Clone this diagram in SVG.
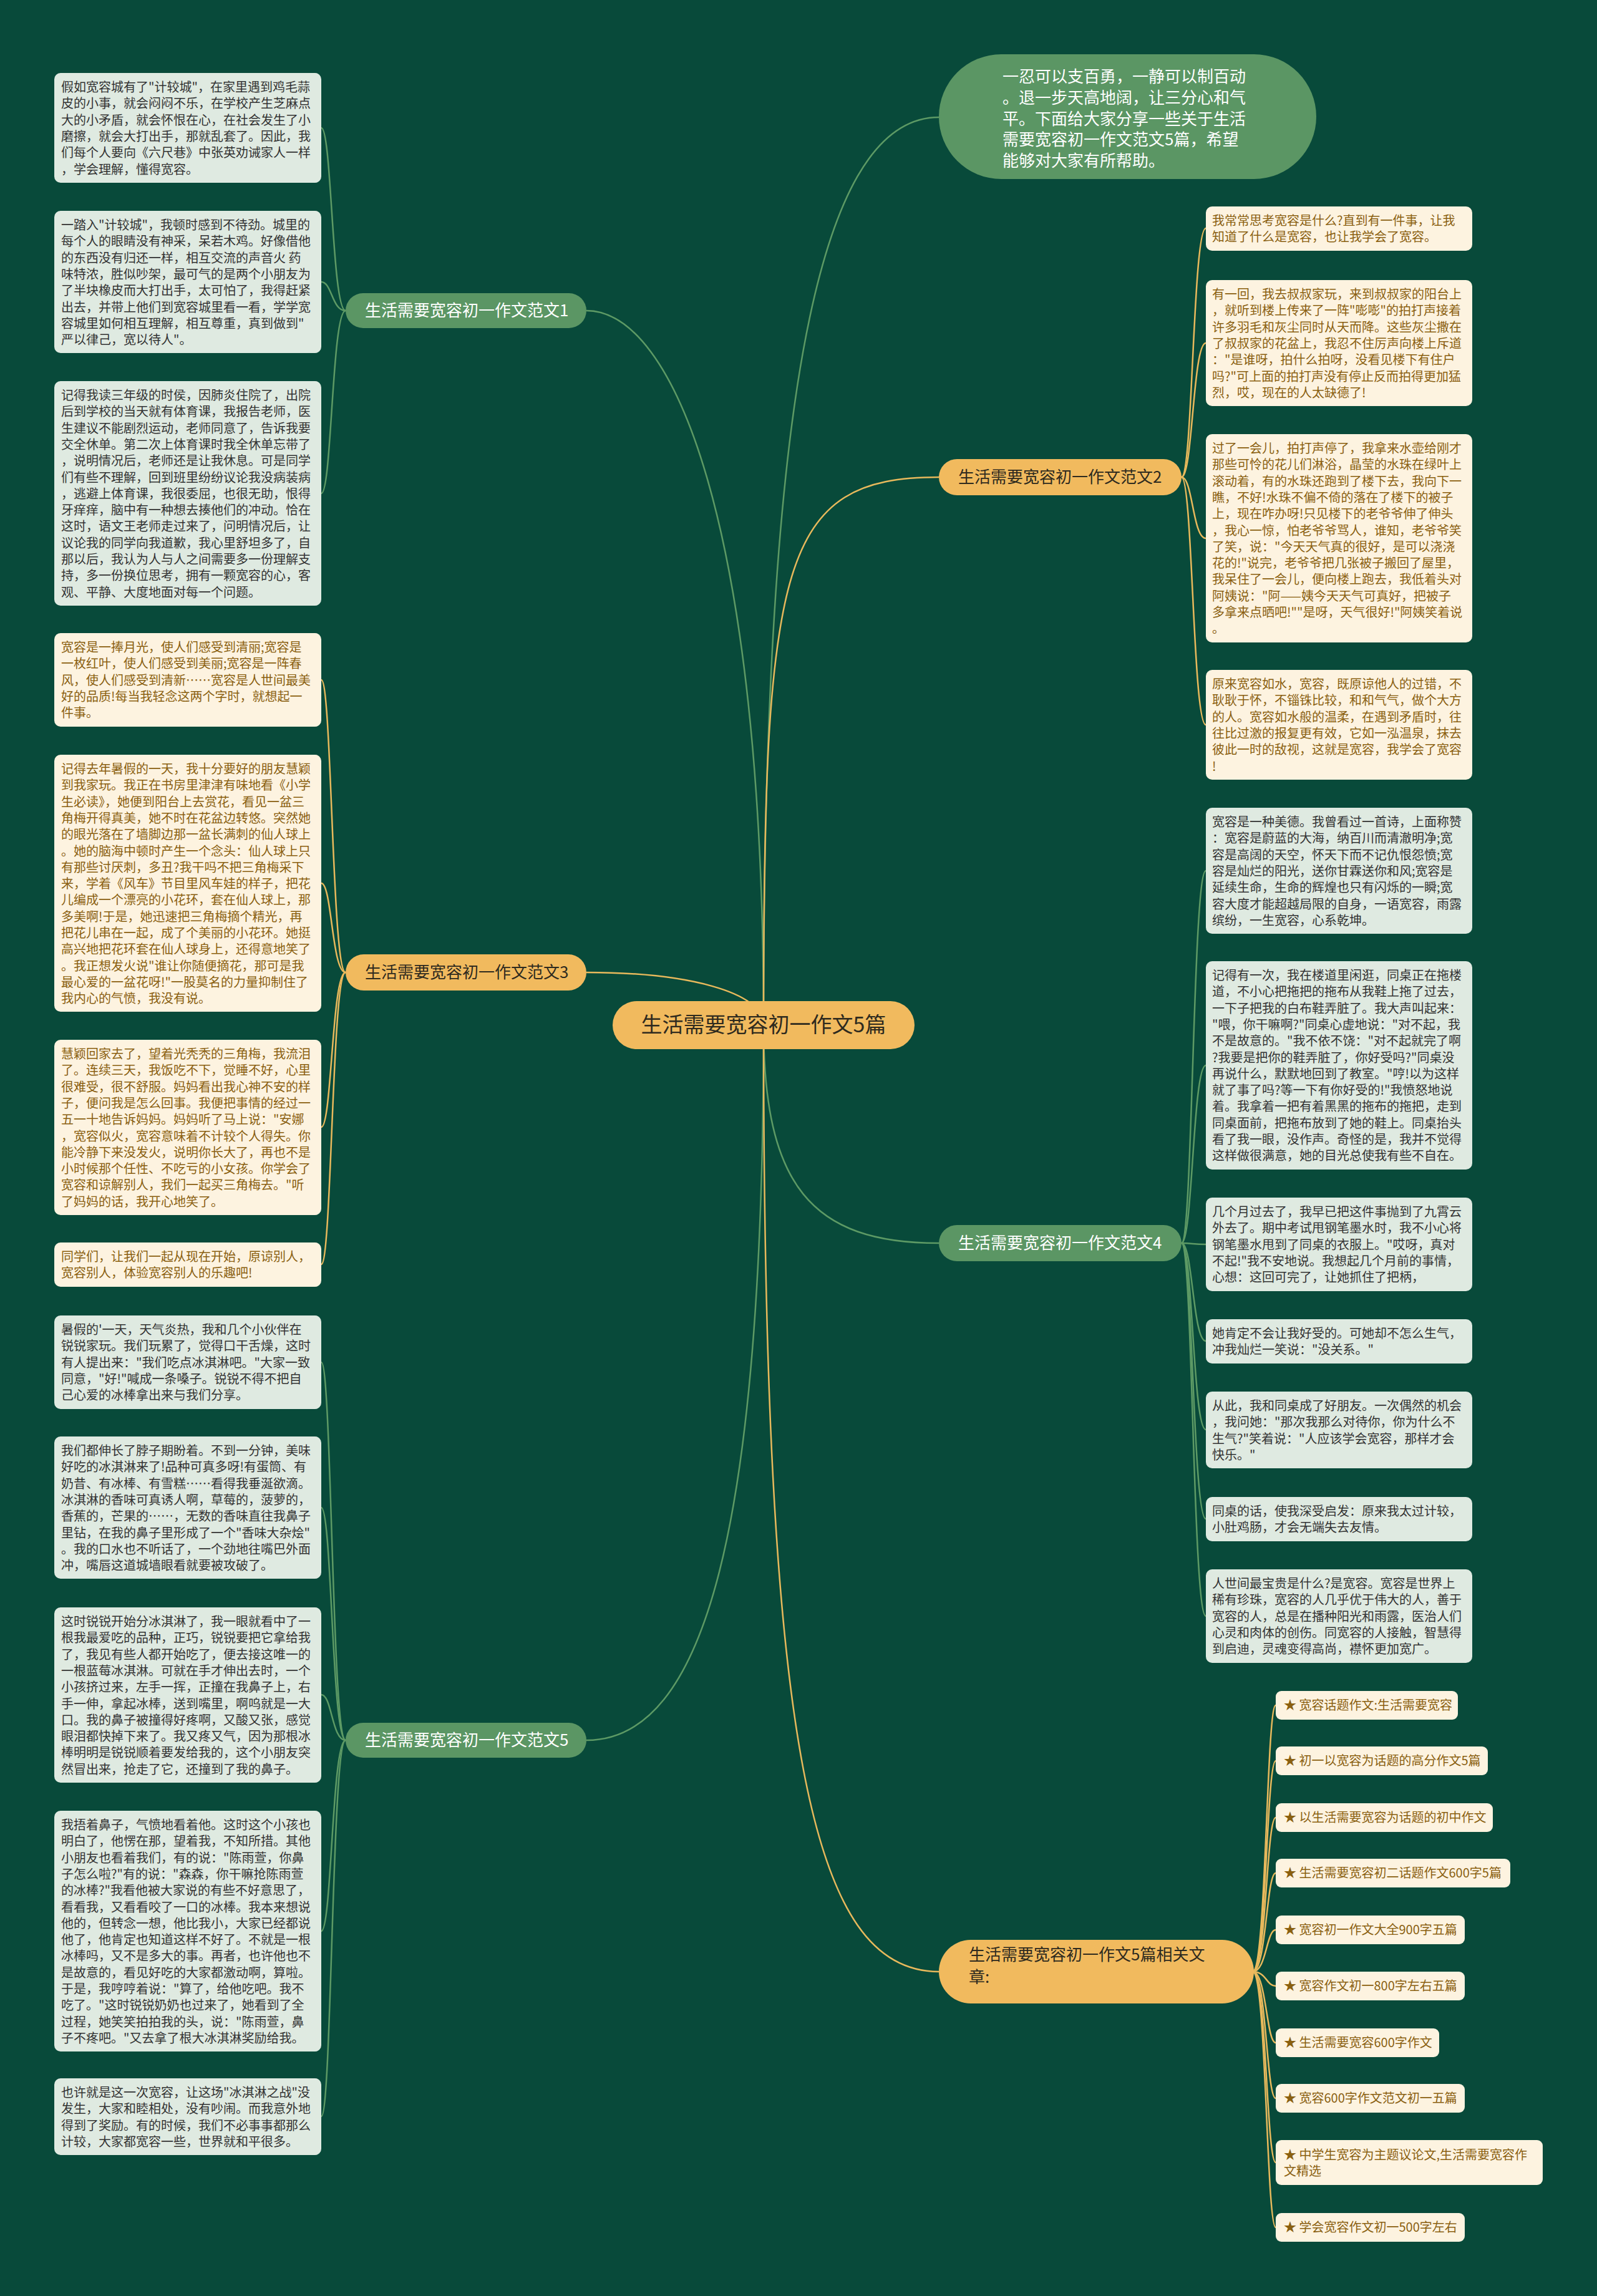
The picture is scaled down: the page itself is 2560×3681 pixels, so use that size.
<svg xmlns="http://www.w3.org/2000/svg" width="2560" height="3681" viewBox="0 0 2560 3681">
<style>
text{font-family:'Noto Sans CJK SC','Noto Sans',sans-serif}
.bx{font-size:20px}
.g{fill:#dfeae1}
.c{fill:#fdf3e0}
.tg{fill:#333333}
.tc{fill:#8a6010}
.lg{fill:none;stroke:#5d9a65;stroke-width:2.5}
.lo{fill:none;stroke:#e8b95c;stroke-width:2.5}
.pg{fill:#5b9664}
.po{fill:#f1ba5e}
.br{font-size:26px}
</style>
<rect width="2560" height="3681" fill="#084a3a"/>
<g id="connectors">
<path class="lg" d="M1224,1643 C1224,700 1300,188 1505,188"/>
<path class="lg" d="M1224,1643 C1224,842 1080,498 940,498"/>
<path class="lo" d="M1224,1643 C1224,900 1250,765 1505,765"/>
<path class="lo" d="M1224,1643 C1224,1590 1100,1559 940,1559"/>
<path class="lg" d="M1224,1643 C1224,1900 1300,1993 1505,1993"/>
<path class="lg" d="M1224,1643 C1224,2450 1130,2790 940,2790"/>
<path class="lo" d="M1224,1643 C1224,2800 1300,3161 1505,3161"/>
<path class="lg" d="M554,498 C532,498 532,205 515,205"/>
<path class="lg" d="M554,498 C532,498 532,452 515,452"/>
<path class="lg" d="M554,498 C532,498 532,791 515,791"/>
<path class="lo" d="M554,1559 C532,1559 532,1090 515,1090"/>
<path class="lo" d="M554,1559 C532,1559 532,1416 515,1416"/>
<path class="lo" d="M554,1559 C532,1559 532,1807 515,1807"/>
<path class="lo" d="M554,1559 C532,1559 532,2027 515,2027"/>
<path class="lg" d="M554,2790 C532,2790 532,2184 515,2184"/>
<path class="lg" d="M554,2790 C532,2790 532,2417 515,2417"/>
<path class="lg" d="M554,2790 C532,2790 532,2717 515,2717"/>
<path class="lg" d="M554,2790 C532,2790 532,3096 515,3096"/>
<path class="lg" d="M554,2790 C532,2790 532,3393 515,3393"/>
<path class="lo" d="M1894,765 C1912,765 1912,366 1933,366"/>
<path class="lo" d="M1894,765 C1912,765 1912,550 1933,550"/>
<path class="lo" d="M1894,765 C1912,765 1912,863 1933,863"/>
<path class="lo" d="M1894,765 C1912,765 1912,1162 1933,1162"/>
<path class="lg" d="M1894,1993 C1912,1993 1912,1396 1933,1396"/>
<path class="lg" d="M1894,1993 C1912,1993 1912,1708 1933,1708"/>
<path class="lg" d="M1894,1993 C1912,1993 1912,1995 1933,1995"/>
<path class="lg" d="M1894,1993 C1912,1993 1912,2150 1933,2150"/>
<path class="lg" d="M1894,1993 C1912,1993 1912,2292 1933,2292"/>
<path class="lg" d="M1894,1993 C1912,1993 1912,2435 1933,2435"/>
<path class="lg" d="M1894,1993 C1912,1993 1912,2591 1933,2591"/>
<path class="lo" d="M2008,3161 C2030,3161 2030,2734 2045,2734"/>
<path class="lo" d="M2008,3161 C2030,3161 2030,2823 2045,2823"/>
<path class="lo" d="M2008,3161 C2030,3161 2030,2914 2045,2914"/>
<path class="lo" d="M2008,3161 C2030,3161 2030,3003 2045,3003"/>
<path class="lo" d="M2008,3161 C2030,3161 2030,3094 2045,3094"/>
<path class="lo" d="M2008,3161 C2030,3161 2030,3184 2045,3184"/>
<path class="lo" d="M2008,3161 C2030,3161 2030,3275 2045,3275"/>
<path class="lo" d="M2008,3161 C2030,3161 2030,3364 2045,3364"/>
<path class="lo" d="M2008,3161 C2030,3161 2030,3467 2045,3467"/>
<path class="lo" d="M2008,3161 C2030,3161 2030,3571 2045,3571"/>
</g>
<g id="center"><rect class="po" x="982" y="1605" width="484" height="77" rx="38.5"/><text x="1224" y="1655" font-size="34" fill="#2e2a1e" text-anchor="middle">生活需要宽容初一作文5篇</text></g>
<g id="intro"><rect class="pg" x="1505" y="87" width="605" height="200" rx="100"/><text font-size="26" fill="#ffffff"><tspan x="1607" y="132">一忍可以支百勇，一静可以制百动</tspan><tspan x="1607" dy="33.8">。退一步天高地阔，让三分心和气</tspan><tspan x="1607" dy="33.8">平。下面给大家分享一些关于生活</tspan><tspan x="1607" dy="33.8">需要宽容初一作文范文5篇，希望</tspan><tspan x="1607" dy="33.8">能够对大家有所帮助。</tspan></text></g>
<g id="branch1"><rect class="pg" x="554" y="470" width="386" height="56" rx="28"/><text class="br" x="585" y="507" fill="#ffffff">生活需要宽容初一作文范文1</text></g>
<g id="branch2"><rect class="po" x="1505" y="736" width="389" height="58" rx="29"/><text class="br" x="1536" y="774" fill="#2e2a1e">生活需要宽容初一作文范文2</text></g>
<g id="branch3"><rect class="po" x="554" y="1530" width="386" height="58" rx="29"/><text class="br" x="585" y="1568" fill="#2e2a1e">生活需要宽容初一作文范文3</text></g>
<g id="branch4"><rect class="pg" x="1505" y="1964" width="389" height="58" rx="29"/><text class="br" x="1536" y="2002" fill="#ffffff">生活需要宽容初一作文范文4</text></g>
<g id="branch5"><rect class="pg" x="554" y="2762" width="386" height="56" rx="28"/><text class="br" x="585" y="2799" fill="#ffffff">生活需要宽容初一作文范文5</text></g>
<g id="branch6"><rect class="po" x="1505" y="3110" width="505" height="102" rx="51"/><text class="br" fill="#2e2a1e"><tspan x="1553" y="3143">生活需要宽容初一作文5篇相关文</tspan><tspan x="1553" dy="36">章:</tspan></text></g>
<g id="b1"><rect class="g" x="87" y="117" width="428" height="176" rx="10"/><text class="bx tg"><tspan x="98" y="147">假如宽容城有了"计较城"，在家里遇到鸡毛蒜</tspan><tspan x="98" dy="26.3">皮的小事，就会闷闷不乐，在学校产生芝麻点</tspan><tspan x="98" dy="26.3">大的小矛盾，就会怀恨在心，在社会发生了小</tspan><tspan x="98" dy="26.3">磨擦，就会大打出手，那就乱套了。因此，我</tspan><tspan x="98" dy="26.3">们每个人要向《六尺巷》中张英劝诫家人一样</tspan><tspan x="98" dy="26.3">，学会理解，懂得宽容。</tspan></text></g>
<g id="b2"><rect class="g" x="87" y="338" width="428" height="228" rx="10"/><text class="bx tg"><tspan x="98" y="368">一踏入"计较城"，我顿时感到不待劲。城里的</tspan><tspan x="98" dy="26.3">每个人的眼睛没有神采，呆若木鸡。好像借他</tspan><tspan x="98" dy="26.3">的东西没有归还一样，相互交流的声音火 药</tspan><tspan x="98" dy="26.3">味特浓，胜似吵架，最可气的是两个小朋友为</tspan><tspan x="98" dy="26.3">了半块橡皮而大打出手，太可怕了，我得赶紧</tspan><tspan x="98" dy="26.3">出去，并带上他们到宽容城里看一看，学学宽</tspan><tspan x="98" dy="26.3">容城里如何相互理解，相互尊重，真到做到"</tspan><tspan x="98" dy="26.3">严以律己，宽以待人"。</tspan></text></g>
<g id="b3"><rect class="g" x="87" y="611" width="428" height="360" rx="10"/><text class="bx tg"><tspan x="98" y="641">记得我读三年级的时侯，因肺炎住院了，出院</tspan><tspan x="98" dy="26.3">后到学校的当天就有体育课，我报告老师，医</tspan><tspan x="98" dy="26.3">生建议不能剧烈运动，老师同意了，告诉我要</tspan><tspan x="98" dy="26.3">交全休单。第二次上体育课时我全休单忘带了</tspan><tspan x="98" dy="26.3">，说明情况后，老师还是让我休息。可是同学</tspan><tspan x="98" dy="26.3">们有些不理解，回到班里纷纷议论我没病装病</tspan><tspan x="98" dy="26.3">，逃避上体育课，我很委屈，也很无助，恨得</tspan><tspan x="98" dy="26.3">牙痒痒，脑中有一种想去揍他们的冲动。恰在</tspan><tspan x="98" dy="26.3">这时，语文王老师走过来了，问明情况后，让</tspan><tspan x="98" dy="26.3">议论我的同学向我道歉，我心里舒坦多了，自</tspan><tspan x="98" dy="26.3">那以后，我认为人与人之间需要多一份理解支</tspan><tspan x="98" dy="26.3">持，多一份换位思考，拥有一颗宽容的心，客</tspan><tspan x="98" dy="26.3">观、平静、大度地面对每一个问题。</tspan></text></g>
<g id="b4"><rect class="c" x="87" y="1015" width="428" height="150" rx="10"/><text class="bx tc"><tspan x="98" y="1045">宽容是一捧月光，使人们感受到清丽;宽容是</tspan><tspan x="98" dy="26.3">一枚红叶，使人们感受到美丽;宽容是一阵春</tspan><tspan x="98" dy="26.3">风，使人们感受到清新……宽容是人世间最美</tspan><tspan x="98" dy="26.3">好的品质!每当我轻念这两个字时，就想起一</tspan><tspan x="98" dy="26.3">件事。</tspan></text></g>
<g id="b5"><rect class="c" x="87" y="1210" width="428" height="412" rx="10"/><text class="bx tc"><tspan x="98" y="1240">记得去年暑假的一天，我十分要好的朋友慧颖</tspan><tspan x="98" dy="26.3">到我家玩。我正在书房里津津有味地看《小学</tspan><tspan x="98" dy="26.3">生必读》，她便到阳台上去赏花，看见一盆三</tspan><tspan x="98" dy="26.3">角梅开得真美，她不时在花盆边转悠。突然她</tspan><tspan x="98" dy="26.3">的眼光落在了墙脚边那一盆长满刺的仙人球上</tspan><tspan x="98" dy="26.3">。她的脑海中顿时产生一个念头：仙人球上只</tspan><tspan x="98" dy="26.3">有那些讨厌刺，多丑?我干吗不把三角梅采下</tspan><tspan x="98" dy="26.3">来，学着《风车》节目里风车娃的样子，把花</tspan><tspan x="98" dy="26.3">儿编成一个漂亮的小花环，套在仙人球上，那</tspan><tspan x="98" dy="26.3">多美啊!于是，她迅速把三角梅摘个精光，再</tspan><tspan x="98" dy="26.3">把花儿串在一起，成了个美丽的小花环。她挺</tspan><tspan x="98" dy="26.3">高兴地把花环套在仙人球身上，还得意地笑了</tspan><tspan x="98" dy="26.3">。我正想发火说"谁让你随便摘花，那可是我</tspan><tspan x="98" dy="26.3">最心爱的一盆花呀!"一股莫名的力量抑制住了</tspan><tspan x="98" dy="26.3">我内心的气愤，我没有说。</tspan></text></g>
<g id="b6"><rect class="c" x="87" y="1667" width="428" height="281" rx="10"/><text class="bx tc"><tspan x="98" y="1697">慧颖回家去了，望着光秃秃的三角梅，我流泪</tspan><tspan x="98" dy="26.3">了。连续三天，我饭吃不下，觉睡不好，心里</tspan><tspan x="98" dy="26.3">很难受，很不舒服。妈妈看出我心神不安的样</tspan><tspan x="98" dy="26.3">子，便问我是怎么回事。我便把事情的经过一</tspan><tspan x="98" dy="26.3">五一十地告诉妈妈。妈妈听了马上说："安娜</tspan><tspan x="98" dy="26.3">，宽容似火，宽容意味着不计较个人得失。你</tspan><tspan x="98" dy="26.3">能冷静下来没发火，说明你长大了，再也不是</tspan><tspan x="98" dy="26.3">小时候那个任性、不吃亏的小女孩。你学会了</tspan><tspan x="98" dy="26.3">宽容和谅解别人，我们一起买三角梅去。"听</tspan><tspan x="98" dy="26.3">了妈妈的话，我开心地笑了。</tspan></text></g>
<g id="b7"><rect class="c" x="87" y="1992" width="428" height="71" rx="10"/><text class="bx tc"><tspan x="98" y="2022">同学们，让我们一起从现在开始，原谅别人，</tspan><tspan x="98" dy="26.3">宽容别人，体验宽容别人的乐趣吧!</tspan></text></g>
<g id="b8"><rect class="g" x="87" y="2109" width="428" height="150" rx="10"/><text class="bx tg"><tspan x="98" y="2139">暑假的'一天，天气炎热，我和几个小伙伴在</tspan><tspan x="98" dy="26.3">锐锐家玩。我们玩累了，觉得口干舌燥，这时</tspan><tspan x="98" dy="26.3">有人提出来："我们吃点冰淇淋吧。"大家一致</tspan><tspan x="98" dy="26.3">同意，"好!"喊成一条嗓子。锐锐不得不把自</tspan><tspan x="98" dy="26.3">己心爱的冰棒拿出来与我们分享。</tspan></text></g>
<g id="b9"><rect class="g" x="87" y="2303" width="428" height="228" rx="10"/><text class="bx tg"><tspan x="98" y="2333">我们都伸长了脖子期盼着。不到一分钟，美味</tspan><tspan x="98" dy="26.3">好吃的冰淇淋来了!品种可真多呀!有蛋筒、有</tspan><tspan x="98" dy="26.3">奶昔、有冰棒、有雪糕……看得我垂涎欲滴。</tspan><tspan x="98" dy="26.3">冰淇淋的香味可真诱人啊，草莓的，菠萝的，</tspan><tspan x="98" dy="26.3">香蕉的，芒果的……，无数的香味直往我鼻子</tspan><tspan x="98" dy="26.3">里钻，在我的鼻子里形成了一个"香味大杂烩"</tspan><tspan x="98" dy="26.3">。我的口水也不听话了，一个劲地往嘴巴外面</tspan><tspan x="98" dy="26.3">冲，嘴唇这道城墙眼看就要被攻破了。</tspan></text></g>
<g id="b10"><rect class="g" x="87" y="2577" width="428" height="281" rx="10"/><text class="bx tg"><tspan x="98" y="2607">这时锐锐开始分冰淇淋了，我一眼就看中了一</tspan><tspan x="98" dy="26.3">根我最爱吃的品种，正巧，锐锐要把它拿给我</tspan><tspan x="98" dy="26.3">了，我见有些人都开始吃了，便去接这唯一的</tspan><tspan x="98" dy="26.3">一根蓝莓冰淇淋。可就在手才伸出去时，一个</tspan><tspan x="98" dy="26.3">小孩挤过来，左手一挥，正撞在我鼻子上，右</tspan><tspan x="98" dy="26.3">手一伸，拿起冰棒，送到嘴里，啊呜就是一大</tspan><tspan x="98" dy="26.3">口。我的鼻子被撞得好疼啊，又酸又张，感觉</tspan><tspan x="98" dy="26.3">眼泪都快掉下来了。我又疼又气，因为那根冰</tspan><tspan x="98" dy="26.3">棒明明是锐锐顺着要发给我的，这个小朋友突</tspan><tspan x="98" dy="26.3">然冒出来，抢走了它，还撞到了我的鼻子。</tspan></text></g>
<g id="b11"><rect class="g" x="87" y="2903" width="428" height="386" rx="10"/><text class="bx tg"><tspan x="98" y="2933">我捂着鼻子，气愤地看着他。这时这个小孩也</tspan><tspan x="98" dy="26.3">明白了，他愣在那，望着我，不知所措。其他</tspan><tspan x="98" dy="26.3">小朋友也看着我们，有的说："陈雨萱，你鼻</tspan><tspan x="98" dy="26.3">子怎么啦?"有的说："森森，你干嘛抢陈雨萱</tspan><tspan x="98" dy="26.3">的冰棒?"我看他被大家说的有些不好意思了，</tspan><tspan x="98" dy="26.3">看看我，又看看咬了一口的冰棒。我本来想说</tspan><tspan x="98" dy="26.3">他的，但转念一想，他比我小，大家已经都说</tspan><tspan x="98" dy="26.3">他了，他肯定也知道这样不好了。不就是一根</tspan><tspan x="98" dy="26.3">冰棒吗，又不是多大的事。再者，也许他也不</tspan><tspan x="98" dy="26.3">是故意的，看见好吃的大家都激动啊，算啦。</tspan><tspan x="98" dy="26.3">于是，我哼哼着说："算了，给他吃吧。我不</tspan><tspan x="98" dy="26.3">吃了。"这时锐锐奶奶也过来了，她看到了全</tspan><tspan x="98" dy="26.3">过程，她笑笑拍拍我的头，说："陈雨萱，鼻</tspan><tspan x="98" dy="26.3">子不疼吧。"又去拿了根大冰淇淋奖励给我。</tspan></text></g>
<g id="b12"><rect class="g" x="87" y="3332" width="428" height="123" rx="10"/><text class="bx tg"><tspan x="98" y="3362">也许就是这一次宽容，让这场"冰淇淋之战"没</tspan><tspan x="98" dy="26.3">发生，大家和睦相处，没有吵闹。而我意外地</tspan><tspan x="98" dy="26.3">得到了奖励。有的时候，我们不必事事都那么</tspan><tspan x="98" dy="26.3">计较，大家都宽容一些，世界就和平很多。</tspan></text></g>
<g id="r1"><rect class="c" x="1933" y="331" width="427" height="71" rx="10"/><text class="bx tc"><tspan x="1943" y="361">我常常思考宽容是什么?直到有一件事，让我</tspan><tspan x="1943" dy="26.3">知道了什么是宽容，也让我学会了宽容。</tspan></text></g>
<g id="r2"><rect class="c" x="1933" y="449" width="427" height="202" rx="10"/><text class="bx tc"><tspan x="1943" y="479">有一回，我去叔叔家玩，来到叔叔家的阳台上</tspan><tspan x="1943" dy="26.3">，就听到楼上传来了一阵"嘭嘭"的拍打声接着</tspan><tspan x="1943" dy="26.3">许多羽毛和灰尘同时从天而降。这些灰尘撒在</tspan><tspan x="1943" dy="26.3">了叔叔家的花盆上，我忍不住厉声向楼上斥道</tspan><tspan x="1943" dy="26.3">："是谁呀，拍什么拍呀，没看见楼下有住户</tspan><tspan x="1943" dy="26.3">吗?"可上面的拍打声没有停止反而拍得更加猛</tspan><tspan x="1943" dy="26.3">烈，哎，现在的人太缺德了!</tspan></text></g>
<g id="r3"><rect class="c" x="1933" y="696" width="427" height="334" rx="10"/><text class="bx tc"><tspan x="1943" y="726">过了一会儿，拍打声停了，我拿来水壶给刚才</tspan><tspan x="1943" dy="26.3">那些可怜的花儿们淋浴，晶莹的水珠在绿叶上</tspan><tspan x="1943" dy="26.3">滚动着，有的水珠还跑到了楼下去，我向下一</tspan><tspan x="1943" dy="26.3">瞧，不好!水珠不偏不倚的落在了楼下的被子</tspan><tspan x="1943" dy="26.3">上，现在咋办呀!只见楼下的老爷爷伸了伸头</tspan><tspan x="1943" dy="26.3">，我心一惊，怕老爷爷骂人，谁知，老爷爷笑</tspan><tspan x="1943" dy="26.3">了笑，说："今天天气真的很好，是可以浇浇</tspan><tspan x="1943" dy="26.3">花的!"说完，老爷爷把几张被子搬回了屋里，</tspan><tspan x="1943" dy="26.3">我呆住了一会儿，便向楼上跑去，我低着头对</tspan><tspan x="1943" dy="26.3">阿姨说："阿——姨今天天气可真好，把被子</tspan><tspan x="1943" dy="26.3">多拿来点晒吧!""是呀，天气很好!"阿姨笑着说</tspan><tspan x="1943" dy="26.3">。</tspan></text></g>
<g id="r4"><rect class="c" x="1933" y="1074" width="427" height="176" rx="10"/><text class="bx tc"><tspan x="1943" y="1104">原来宽容如水，宽容，既原谅他人的过错，不</tspan><tspan x="1943" dy="26.3">耿耿于怀，不锱铢比较，和和气气，做个大方</tspan><tspan x="1943" dy="26.3">的人。宽容如水般的温柔，在遇到矛盾时，往</tspan><tspan x="1943" dy="26.3">往比过激的报复更有效，它如一泓温泉，抹去</tspan><tspan x="1943" dy="26.3">彼此一时的敌视，这就是宽容，我学会了宽容</tspan><tspan x="1943" dy="26.3">!</tspan></text></g>
<g id="r5"><rect class="g" x="1933" y="1295" width="427" height="202" rx="10"/><text class="bx tg"><tspan x="1943" y="1325">宽容是一种美德。我曾看过一首诗，上面称赞</tspan><tspan x="1943" dy="26.3">：宽容是蔚蓝的大海，纳百川而清澈明净;宽</tspan><tspan x="1943" dy="26.3">容是高阔的天空，怀天下而不记仇恨怨愤;宽</tspan><tspan x="1943" dy="26.3">容是灿烂的阳光，送你甘霖送你和风;宽容是</tspan><tspan x="1943" dy="26.3">延续生命，生命的辉煌也只有闪烁的一瞬;宽</tspan><tspan x="1943" dy="26.3">容大度才能超越局限的自身，一语宽容，雨露</tspan><tspan x="1943" dy="26.3">缤纷，一生宽容，心系乾坤。</tspan></text></g>
<g id="r6"><rect class="g" x="1933" y="1541" width="427" height="334" rx="10"/><text class="bx tg"><tspan x="1943" y="1571">记得有一次，我在楼道里闲逛，同桌正在拖楼</tspan><tspan x="1943" dy="26.3">道，不小心把拖把的拖布从我鞋上拖了过去，</tspan><tspan x="1943" dy="26.3">一下子把我的白布鞋弄脏了。我大声叫起来：</tspan><tspan x="1943" dy="26.3">"喂，你干嘛啊?"同桌心虚地说："对不起，我</tspan><tspan x="1943" dy="26.3">不是故意的。"我不依不饶："对不起就完了啊</tspan><tspan x="1943" dy="26.3">?我要是把你的鞋弄脏了，你好受吗?"同桌没</tspan><tspan x="1943" dy="26.3">再说什么，默默地回到了教室。"哼!以为这样</tspan><tspan x="1943" dy="26.3">就了事了吗?等一下有你好受的!"我愤怒地说</tspan><tspan x="1943" dy="26.3">着。我拿着一把有着黑黑的拖布的拖把，走到</tspan><tspan x="1943" dy="26.3">同桌面前，把拖布放到了她的鞋上。同桌抬头</tspan><tspan x="1943" dy="26.3">看了我一眼，没作声。奇怪的是，我并不觉得</tspan><tspan x="1943" dy="26.3">这样做很满意，她的目光总使我有些不自在。</tspan></text></g>
<g id="r7"><rect class="g" x="1933" y="1920" width="427" height="150" rx="10"/><text class="bx tg"><tspan x="1943" y="1950">几个月过去了，我早已把这件事抛到了九霄云</tspan><tspan x="1943" dy="26.3">外去了。期中考试甩钢笔墨水时，我不小心将</tspan><tspan x="1943" dy="26.3">钢笔墨水甩到了同桌的衣服上。"哎呀，真对</tspan><tspan x="1943" dy="26.3">不起!"我不安地说。我想起几个月前的事情，</tspan><tspan x="1943" dy="26.3">心想：这回可完了，让她抓住了把柄，</tspan></text></g>
<g id="r8"><rect class="g" x="1933" y="2115" width="427" height="71" rx="10"/><text class="bx tg"><tspan x="1943" y="2145">她肯定不会让我好受的。可她却不怎么生气，</tspan><tspan x="1943" dy="26.3">冲我灿烂一笑说："没关系。"</tspan></text></g>
<g id="r9"><rect class="g" x="1933" y="2231" width="427" height="123" rx="10"/><text class="bx tg"><tspan x="1943" y="2261">从此，我和同桌成了好朋友。一次偶然的机会</tspan><tspan x="1943" dy="26.3">，我问她："那次我那么对待你，你为什么不</tspan><tspan x="1943" dy="26.3">生气?"笑着说："人应该学会宽容，那样才会</tspan><tspan x="1943" dy="26.3">快乐。"</tspan></text></g>
<g id="r10"><rect class="g" x="1933" y="2400" width="427" height="71" rx="10"/><text class="bx tg"><tspan x="1943" y="2430">同桌的话，使我深受启发：原来我太过计较，</tspan><tspan x="1943" dy="26.3">小肚鸡肠，才会无端失去友情。</tspan></text></g>
<g id="r11"><rect class="g" x="1933" y="2516" width="427" height="150" rx="10"/><text class="bx tg"><tspan x="1943" y="2546">人世间最宝贵是什么?是宽容。宽容是世界上</tspan><tspan x="1943" dy="26.3">稀有珍珠，宽容的人几乎优于伟大的人，善于</tspan><tspan x="1943" dy="26.3">宽容的人，总是在播种阳光和雨露，医治人们</tspan><tspan x="1943" dy="26.3">心灵和肉体的创伤。同宽容的人接触，智慧得</tspan><tspan x="1943" dy="26.3">到启迪，灵魂变得高尚，襟怀更加宽广。</tspan></text></g>
<g id="l1"><rect class="c" x="2045" y="2711" width="292" height="46" rx="9"/><text class="bx tc" x="2058" y="2741">★ 宽容话题作文:生活需要宽容</text></g>
<g id="l2"><rect class="c" x="2045" y="2800" width="340" height="46" rx="9"/><text class="bx tc" x="2058" y="2830">★ 初一以宽容为话题的高分作文5篇</text></g>
<g id="l3"><rect class="c" x="2045" y="2891" width="348" height="46" rx="9"/><text class="bx tc" x="2058" y="2921">★ 以生活需要宽容为话题的初中作文</text></g>
<g id="l4"><rect class="c" x="2045" y="2980" width="376" height="46" rx="9"/><text class="bx tc" x="2058" y="3010">★ 生活需要宽容初二话题作文600字5篇</text></g>
<g id="l5"><rect class="c" x="2045" y="3071" width="303" height="46" rx="9"/><text class="bx tc" x="2058" y="3101">★ 宽容初一作文大全900字五篇</text></g>
<g id="l6"><rect class="c" x="2045" y="3161" width="303" height="46" rx="9"/><text class="bx tc" x="2058" y="3191">★ 宽容作文初一800字左右五篇</text></g>
<g id="l7"><rect class="c" x="2045" y="3252" width="262" height="46" rx="9"/><text class="bx tc" x="2058" y="3282">★ 生活需要宽容600字作文</text></g>
<g id="l8"><rect class="c" x="2045" y="3341" width="303" height="46" rx="9"/><text class="bx tc" x="2058" y="3371">★ 宽容600字作文范文初一五篇</text></g>
<g id="l9"><rect class="c" x="2045" y="3431" width="428" height="72" rx="9"/><text class="bx tc"><tspan x="2058" y="3462">★ 中学生宽容为主题议论文,生活需要宽容作</tspan><tspan x="2058" dy="26">文精选</tspan></text></g>
<g id="l10"><rect class="c" x="2045" y="3548" width="303" height="46" rx="9"/><text class="bx tc" x="2058" y="3578">★ 学会宽容作文初一500字左右</text></g>
</svg>
